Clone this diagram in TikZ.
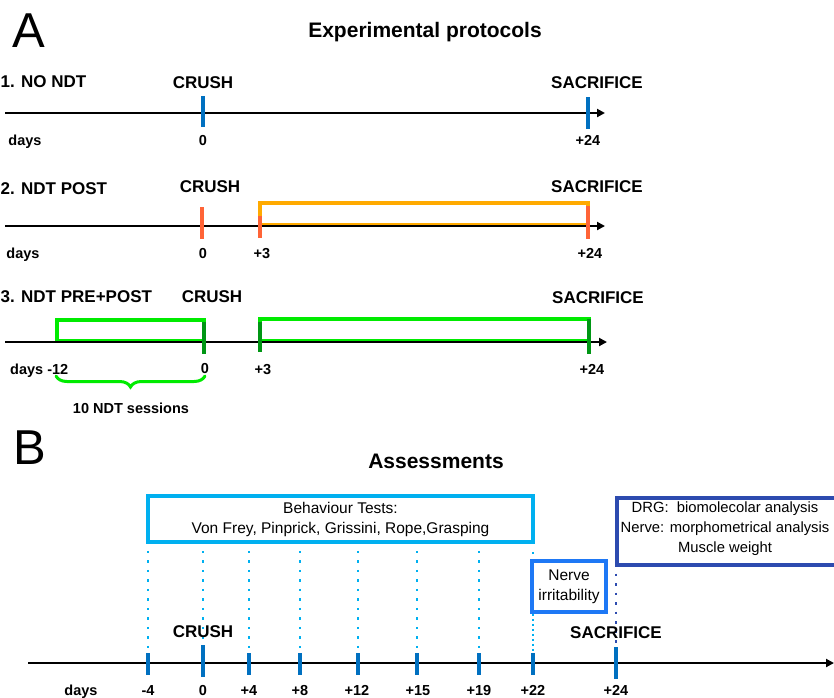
\documentclass[tikz,border=0pt]{standalone}
\usepackage{fontspec}
\setmainfont{Liberation Sans}
\usetikzlibrary{arrows.meta,decorations.pathreplacing}
\definecolor{tickblue}{RGB}{0,112,192}
\definecolor{orangered}{RGB}{255,100,55}
\definecolor{boxorange}{RGB}{255,170,0}
\definecolor{brightgreen}{RGB}{0,235,0}
\definecolor{darkgreen}{RGB}{0,150,20}
\definecolor{lightblue}{RGB}{0,176,240}
\definecolor{nerveblue}{RGB}{30,120,245}
\definecolor{drgblue}{RGB}{45,75,175}
\begin{document}
\begin{tikzpicture}[x=1pt,y=-1pt,
  axis/.style={line width=2.2pt,-{Triangle[length=8pt,width=8pt]}},
  lab/.style={font=\fontsize{17}{20}\selectfont\bfseries,inner sep=0pt,text height=12.2pt,text depth=0pt},
  num/.style={font=\fontsize{14.5}{17}\selectfont\bfseries,inner sep=0pt,text height=10.4pt,text depth=0pt},
  ttl/.style={font=\fontsize{21}{24}\selectfont\bfseries,inner sep=0pt,text height=15pt,text depth=0pt},
  big/.style={font=\fontsize{49}{50}\selectfont,inner sep=0pt,text height=35pt,text depth=0pt},
  body/.style={font=\fontsize{15.5}{20}\selectfont,align=center,inner sep=0pt},
  tk/.style={line width=3.5pt},
  tkthick/.style={line width=4.5pt},
  bxline/.style={line width=3.5pt},
  dots/.style={line width=2.5pt,dash pattern=on 2.5pt off 7pt,line cap=butt},
  densedots/.style={line width=2.5pt,dash pattern=on 2.5pt off 2.5pt,line cap=butt}]
\useasboundingbox (0,0) rectangle (834,697);
\clip (0,0) rectangle (834,697);

% ---------------- Panel A ----------------
\node[big] (lA) at (29,30) {A};
\node[ttl] (tA) at (425,30) {Experimental protocols};

% Row 1
\node[lab,anchor=west] (p1) at (0.5,81) {1. NO NDT};
\node[lab] (c1) at (203,82) {CRUSH};
\node[lab] (s1) at (597,82) {SACRIFICE};
\coordinate (a1s) at (5,113);
\coordinate (a1e) at (605,113);
\draw[axis] (a1s) -- (a1e);
\draw[tk,tickblue] (203,96) -- (203,127);
\draw[tk,tickblue] (588,97) -- (588,129);
\node[num] (d1) at (25,140) {days};
\node[num] (z1) at (203,140) {0};
\node[num] (e1) at (588,140) {+24};

% Row 2
\node[lab,anchor=west] (p2) at (0.5,188) {2. NDT POST};
\node[lab] (c2) at (210,186) {CRUSH};
\node[lab] (s2) at (597,186) {SACRIFICE};
\draw[bxline,boxorange] (260,224.5) rectangle (588,203);
\coordinate (a2s) at (5,226);
\coordinate (a2e) at (605,226);
\draw[axis] (a2s) -- (a2e);
\draw[tk,orangered] (202,207) -- (202,239);
\draw[tk,orangered] (260,216) -- (260,238);
\draw[tk,orangered] (588,206) -- (588,239);
\node[num] (d2) at (23,253) {days};
\node[num] (z2) at (203,253) {0};
\node[num] (t2) at (262,253) {+3};
\node[num] (e2) at (590,253) {+24};

% Row 3
\node[lab,anchor=west] (p3) at (0.5,296) {3. NDT PRE+POST};
\node[lab] (c3) at (212,296) {CRUSH};
\node[lab] (s3) at (598,297) {SACRIFICE};
\draw[bxline,brightgreen] (57,340.5) rectangle (204,320);
\draw[bxline,brightgreen] (260,340.5) rectangle (589,319);
\coordinate (a3s) at (5,342);
\coordinate (a3e) at (607,342);
\draw[axis] (a3s) -- (a3e);
\draw[tk,darkgreen] (204,322) -- (204,354);
\draw[tk,darkgreen] (260,322) -- (260,352);
\draw[tk,darkgreen] (589,319) -- (589,354);
\node[num,anchor=west] (d3) at (10,369) {days -12};
\node[num] (z3) at (205,368) {0};
\node[num] (t3) at (263,369) {+3};
\node[num] (e3) at (592,369) {+24};
\coordinate (br1) at (56,376);
\coordinate (br2) at (205,376);
\draw[brightgreen,line width=3pt,line cap=round,decorate,decoration={brace,mirror,amplitude=11pt}] (br1) -- (br2);
\node[num] (ses) at (131,408) {10 NDT sessions};

% ---------------- Panel B ----------------
\node[big] (lB) at (30,447) {B};
\node[ttl] (tB) at (436,461) {Assessments};

\node[body,draw=lightblue,bxline,minimum width=385pt,minimum height=46pt] (bt) at (340.5,519)
  {Behaviour Tests:\\Von Frey, Pinprick, Grissini, Rope,Grasping};
\node[body,draw=nerveblue,bxline,minimum width=74pt,minimum height=51pt] (nv) at (569,586.5)
  {Nerve\\irritability};
\node[draw=drgblue,bxline,minimum width=300pt,minimum height=67pt,inner sep=0pt,anchor=north west] (drg) at (615,496) {};
\node[body,font=\fontsize{14.8}{20}\selectfont] (drgt) at (725,528.5)
  {DRG:\ \ biomolecolar analysis\\Nerve: morphometrical analysis\\Muscle weight};

\coordinate (aBs) at (28,663);
\coordinate (aBe) at (834,663);
\draw[axis] (aBs) -- (aBe);

\foreach \x/\n in {148/m4,249/p4,300/p8,358/p12,417/p15,479/p19,533/p22}{
  \coordinate (top\n) at (\x,653);
  \draw[tk,tickblue] (top\n) -- (\x,675);
}
\coordinate (top0) at (203,645);
\draw[tkthick,tickblue] (top0) -- (203,677);
\coordinate (top24) at (616,647);
\draw[tkthick,tickblue] (top24) -- (616,679);

\foreach \n in {m4,0,p4,p8,p12,p15,p19}{
  \draw[dots,lightblue,shorten <=7pt,shorten >=3pt] (bt.south -| top\n) -- (top\n);
}
\draw[dots,lightblue,shorten <=8pt] (bt.south -| topp22) -- (nv.north -| topp22);
\draw[densedots,lightblue,shorten >=1pt] (nv.south -| topp22) -- (topp22);
\draw[dots,drgblue,shorten <=7pt,shorten >=2pt] (drg.south west -| top24) -- (top24);

\node[lab] (cB) at (203,631) {CRUSH};
\node[lab] (sB) at (616,632) {SACRIFICE};

\node[num] (dB) at (81,690) {days};
\foreach \x/\t in {148/-4,203/0,249/+4,300/+8,357/+12,418/+15,479/+19,533/+22,616/+24}{
  \node[num] at (\x,690) {\t};
}
\end{tikzpicture}
\end{document}
